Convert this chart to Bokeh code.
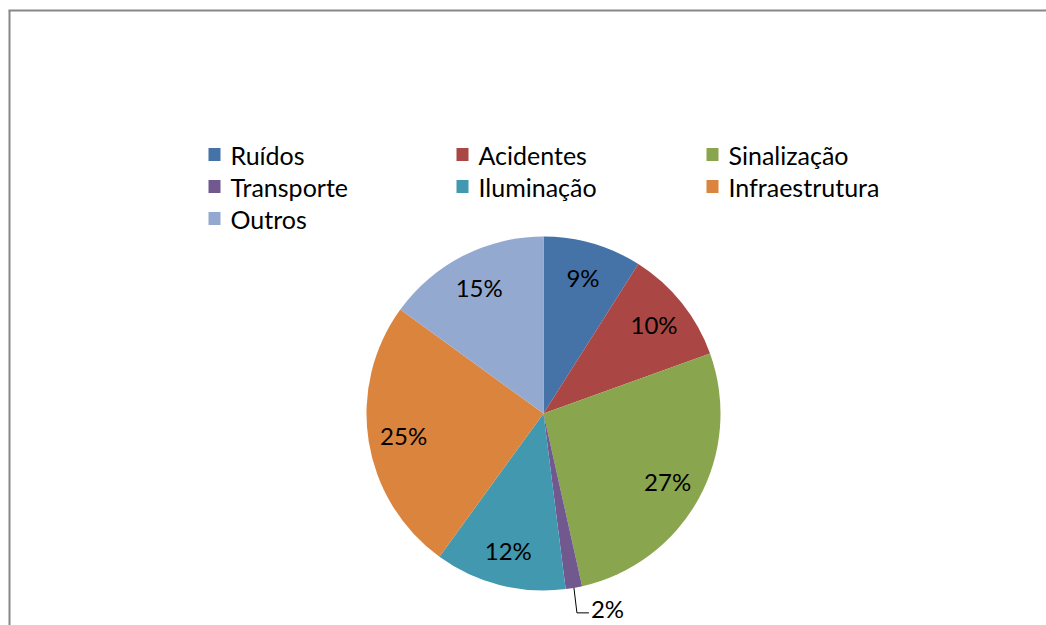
import math
from bokeh.plotting import figure
from bokeh.models import Range1d, ColumnDataSource
from bokeh.core.properties import value
from bokeh.embed import file_html
from bokeh.resources import INLINE

categories = ["Ruídos", "Acidentes", "Sinalização", "Transporte", "Iluminação", "Infraestrutura", "Outros"]
shares = [9.0, 10.5, 27.0, 1.5, 12.0, 25.0, 15.0]
labels = ["9%", "10%", "27%", "2%", "12%", "25%", "15%"]
colors = ["#4572A7", "#AA4643", "#89A54E", "#71588F", "#4198AF", "#DB843D", "#93A9CF"]

W, H = 1046, 625
FONT = "Lato"


def px(x):
    return x


def py(y):
    return H - y


p = figure(width=W, height=H, x_range=Range1d(0, W), y_range=Range1d(0, H),
           output_backend="svg", toolbar_location=None, min_border=0,
           x_axis_type=None, y_axis_type=None)
p.grid.visible = False
p.outline_line_color = None
p.background_fill_color = "white"
p.border_fill_color = "white"

# chart frame (left and top edges visible)
p.segment(x0=[px(9), px(8)], y0=[py(10), py(10)], x1=[px(9), px(1046)], y1=[py(625), py(10)],
          line_color="#888888", line_width=2)

cx, cy, r = px(543), py(413), 177
total = sum(shares)
starts, ends, mids = [], [], []
cum = 0.0
for v in shares:
    a0 = math.pi / 2 - 2 * math.pi * cum / total
    cum += v
    a1 = math.pi / 2 - 2 * math.pi * cum / total
    starts.append(a0)
    ends.append(a1)
    mids.append((a0 + a1) / 2)

src = ColumnDataSource(dict(start=starts, end=ends, color=colors, cat=categories))
p.wedge(x=cx, y=cy, radius=r, start_angle="start", end_angle="end", direction="clock",
        fill_color="color", line_color=None, source=src)

lx, ly, lt = [], [], []
for v, m, lab in zip(shares, mids, labels):
    if v / total >= 0.03:
        lx.append(cx + 0.8 * r * math.cos(m))
        ly.append(cy + 0.8 * r * math.sin(m))
        lt.append(lab)
    else:
        ex, ey = cx + r * math.cos(m), cy + r * math.sin(m)
        p.line(x=[ex, ex + 3, ex + 15], y=[ey, ey - 25, ey - 25], line_color="black", line_width=1)
        p.text(x=[ex + 17], y=[ey - 21], text=[lab], text_font=value(FONT), text_font_size="24px",
               text_align="left", text_baseline="middle", text_color="black")
p.text(x=lx, y=ly, text=lt, text_font=value(FONT), text_font_size="24px",
       text_align="center", text_baseline="middle", text_color="black")

# legend (3 columns, row-major)
col_x = [208, 456, 706]
row_y = [154, 186, 218]
mx, my, tx, ty = [], [], [], []
for i, c in enumerate(categories):
    col, row = i % 3, i // 3
    mx.append(px(col_x[col] + 6))
    my.append(py(row_y[row]))
    tx.append(px(col_x[col] + 22))
    ty.append(py(row_y[row]))
p.rect(x=mx, y=my, width=12, height=13, fill_color=colors, line_color=None)
p.text(x=tx, y=ty, text=categories, text_font=value(FONT), text_font_size="25px",
       text_align="left", text_baseline="middle", text_color="black")

open("out.html", "w").write(file_html(p, INLINE))
